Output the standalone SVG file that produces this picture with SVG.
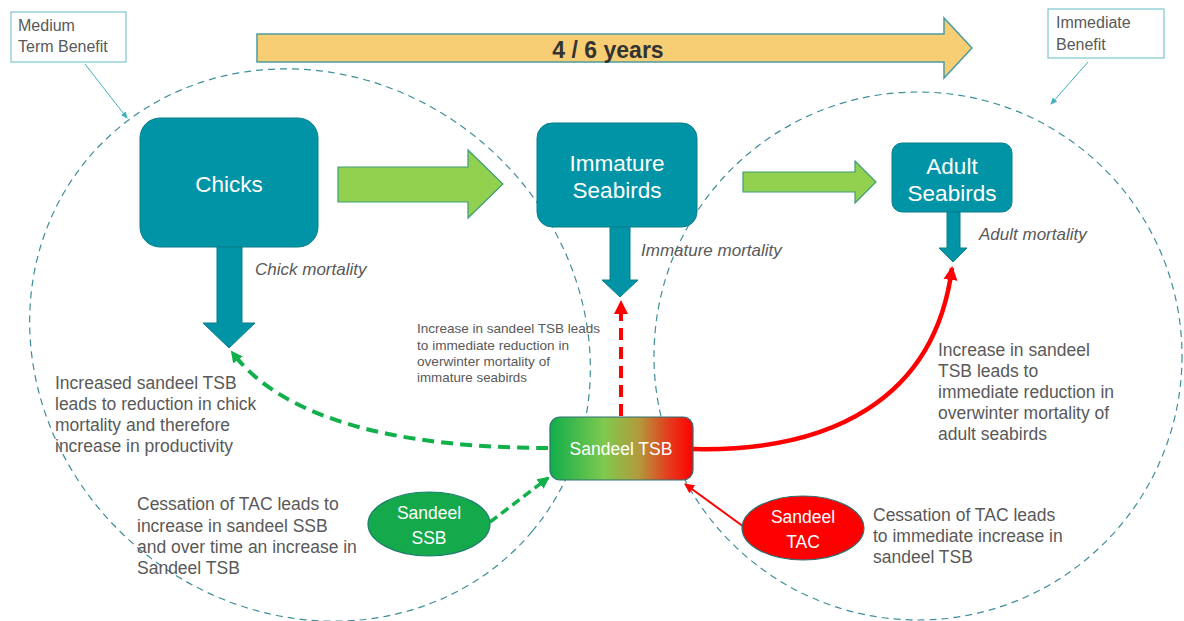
<svg xmlns="http://www.w3.org/2000/svg" width="1184" height="621" viewBox="0 0 1184 621">
<defs>
<linearGradient id="tsbGrad" x1="0" y1="0" x2="1" y2="0">
<stop offset="0" stop-color="#10AE4A"/>
<stop offset="0.38" stop-color="#7FC94E"/>
<stop offset="0.62" stop-color="#B39A3C"/>
<stop offset="0.82" stop-color="#E2401E"/>
<stop offset="1" stop-color="#FF0000"/>
</linearGradient>
<marker id="mTeal" markerWidth="8" markerHeight="8" refX="6" refY="4" orient="auto" markerUnits="userSpaceOnUse">
<path d="M0,1 L7,4 L0,7 Z" fill="#3FAFC0"/>
</marker>
<marker id="mGreen" markerWidth="14" markerHeight="14" refX="10" refY="7" orient="auto" markerUnits="userSpaceOnUse">
<path d="M0,1 L12,7 L0,13 Z" fill="#12B04A"/>
</marker>
<marker id="mRed" markerWidth="16" markerHeight="16" refX="12" refY="8" orient="auto" markerUnits="userSpaceOnUse">
<path d="M0,1 L14,8 L0,15 Z" fill="#FF0000"/>
</marker>
<marker id="mRedS" markerWidth="12" markerHeight="12" refX="9" refY="6" orient="auto" markerUnits="userSpaceOnUse">
<path d="M0,1 L10,6 L0,11 Z" fill="#FF0000"/>
</marker>
</defs>
<style>
.zone{fill:none;stroke:#3F8E9A;stroke-width:1.2;stroke-dasharray:7 5}
.box{fill:#0094A6;stroke:#0A7F8C;stroke-width:1}
.node{font-family:"Liberation Sans",Arial,sans-serif;fill:#FFFFFF;text-anchor:middle}
.lbl{font-family:"Liberation Sans",Arial,sans-serif;fill:#595959;font-size:17.5px}
.small{font-family:"Liberation Sans",Arial,sans-serif;fill:#595959;font-size:13px}
.ital{font-family:"Liberation Sans",Arial,sans-serif;fill:#595959;font-style:italic;font-size:17px}
.mort{fill:#0094A6;stroke:#0A7F8C;stroke-width:1}
.grn{fill:#92D050;stroke:#3E9C7A;stroke-width:1.2}
.callout{fill:#FFFFFF;stroke:#7CC6CF;stroke-width:1.2}
.ctext{font-family:"Liberation Sans",Arial,sans-serif;fill:#595959;font-size:16px}
</style>
<rect width="1184" height="621" fill="#FFFFFF"/>

<g id="zones">
<ellipse class="zone" cx="310" cy="345" rx="290" ry="266" transform="rotate(40 310 345)"/>
<circle class="zone" cx="918" cy="356" r="264"/>
</g>

<g id="timeline">
<path d="M257,34 L944,34 L944,18 L972,48 L944,78 L944,62 L257,62 Z" fill="#F8CE74" stroke="#4C9CA0" stroke-width="1.5"/>
<text x="608" y="58" font-family="Liberation Sans,Arial,sans-serif" font-weight="bold" font-size="23" fill="#333333" text-anchor="middle">4 / 6 years</text>
</g>

<g id="medium-benefit">
<rect class="callout" x="11" y="12" width="115" height="50"/>
<text class="ctext" x="18" y="31">Medium</text>
<text class="ctext" x="18" y="52">Term Benefit</text>
</g>
<g id="immediate-benefit">
<rect class="callout" x="1048" y="9" width="116" height="49"/>
<text class="ctext" x="1056" y="28">Immediate</text>
<text class="ctext" x="1056" y="50">Benefit</text>
</g>

<g id="chicks">
<rect class="box" x="140" y="118" width="178" height="129" rx="20"/>
<text class="node" x="229" y="192" font-size="22.5">Chicks</text>
</g>
<g id="chick-mortality">
<path class="mort" d="M217,247 L242,247 L242,323 L255,323 L229,348 L203,323 L217,323 Z"/>
<text class="ital" x="255" y="275">Chick mortality</text>
</g>

<g id="immature">
<rect class="box" x="537" y="123" width="160" height="104" rx="15"/>
<text class="node" x="617" y="171" font-size="22.5">Immature</text>
<text class="node" x="617" y="198" font-size="22.5">Seabirds</text>
</g>
<g id="immature-mortality">
<path class="mort" d="M610,227 L630,227 L630,280 L638,280 L620,297 L602,280 L610,280 Z"/>
<text class="ital" x="641" y="256">Immature mortality</text>
</g>

<g id="adult">
<rect class="box" x="892" y="143" width="120" height="69" rx="10"/>
<text class="node" x="952" y="174" font-size="22.5">Adult</text>
<text class="node" x="952" y="201" font-size="22.5">Seabirds</text>
</g>
<g id="adult-mortality">
<path class="mort" d="M947,212 L960,212 L960,248 L967,248 L953,262 L939,248 L947,248 Z"/>
<text class="ital" x="979" y="240" font-size="16">Adult mortality</text>
</g>

<g id="growth-arrows">
<path class="grn" d="M338,167 L468,167 L468,150 L503,184 L468,218 L468,202 L338,202 Z"/>
<path class="grn" d="M743,172 L855,172 L855,161 L876,182 L855,203 L855,192 L743,192 Z"/>
</g>

<g id="connectors">
<path d="M85,64 L127,118" stroke="#3FAFC0" stroke-width="1" fill="none" marker-end="url(#mTeal)"/>
<path d="M1088,62 L1051,104" stroke="#3FAFC0" stroke-width="1" fill="none" marker-end="url(#mTeal)"/>
<path d="M548,448 C430,448 290,430 232,352" stroke="#12B04A" stroke-width="4" stroke-dasharray="12 7" fill="none" marker-end="url(#mGreen)"/>
<path d="M490,522 L548,478" stroke="#12B04A" stroke-width="3.5" stroke-dasharray="9 5" fill="none" marker-end="url(#mGreen)"/>
<path d="M621,416 L621,302" stroke="#FF0000" stroke-width="4" stroke-dasharray="12 7" fill="none" marker-end="url(#mRed)"/>
<path d="M693,449 C830,452 935,400 952,268" stroke="#FF0000" stroke-width="4.5" fill="none" marker-end="url(#mRed)"/>
<path d="M744,527 L685,484" stroke="#FF0000" stroke-width="2" fill="none" marker-end="url(#mRedS)"/>
</g>

<g id="sandeel-tsb">
<rect x="550" y="417" width="143" height="63" rx="10" fill="url(#tsbGrad)" stroke="#2E7074" stroke-width="1.2"/>
<text class="node" x="621" y="455" font-size="17.5">Sandeel TSB</text>
</g>
<g id="sandeel-ssb">
<ellipse cx="429" cy="524" rx="61" ry="32" fill="#14A94A" stroke="#1B7E72" stroke-width="1.2"/>
<text class="node" x="429" y="519" font-size="17.5">Sandeel</text>
<text class="node" x="429" y="544" font-size="17.5">SSB</text>
</g>
<g id="sandeel-tac">
<ellipse cx="803" cy="528" rx="61" ry="32" fill="#FF0000" stroke="#2E7074" stroke-width="1.2"/>
<text class="node" x="803" y="523" font-size="17.5">Sandeel</text>
<text class="node" x="803" y="548" font-size="17.5">TAC</text>
</g>

<g id="labels">
<text class="small" x="417" y="333" textLength="183" lengthAdjust="spacingAndGlyphs">Increase in sandeel TSB leads</text>
<text class="small" x="417" y="350" textLength="152" lengthAdjust="spacingAndGlyphs">to immediate reduction in</text>
<text class="small" x="417" y="366" textLength="133" lengthAdjust="spacingAndGlyphs">overwinter mortality of</text>
<text class="small" x="417" y="382" textLength="110" lengthAdjust="spacingAndGlyphs">immature seabirds</text>

<text class="lbl" x="55" y="389">Increased sandeel TSB</text>
<text class="lbl" x="55" y="410">leads to reduction in chick</text>
<text class="lbl" x="55" y="431">mortality and therefore</text>
<text class="lbl" x="55" y="452">increase in productivity</text>

<text class="lbl" x="137" y="510">Cessation of TAC leads to</text>
<text class="lbl" x="137" y="532">increase in sandeel SSB</text>
<text class="lbl" x="137" y="553">and over time an increase in</text>
<text class="lbl" x="137" y="574">Sandeel TSB</text>

<text class="lbl" x="938" y="356">Increase in sandeel</text>
<text class="lbl" x="938" y="377">TSB leads to</text>
<text class="lbl" x="938" y="398">immediate reduction in</text>
<text class="lbl" x="938" y="419">overwinter mortality of</text>
<text class="lbl" x="938" y="440">adult seabirds</text>

<text class="lbl" x="873" y="521">Cessation of TAC leads</text>
<text class="lbl" x="873" y="542">to immediate increase in</text>
<text class="lbl" x="873" y="563">sandeel TSB</text>
</g>
</svg>
